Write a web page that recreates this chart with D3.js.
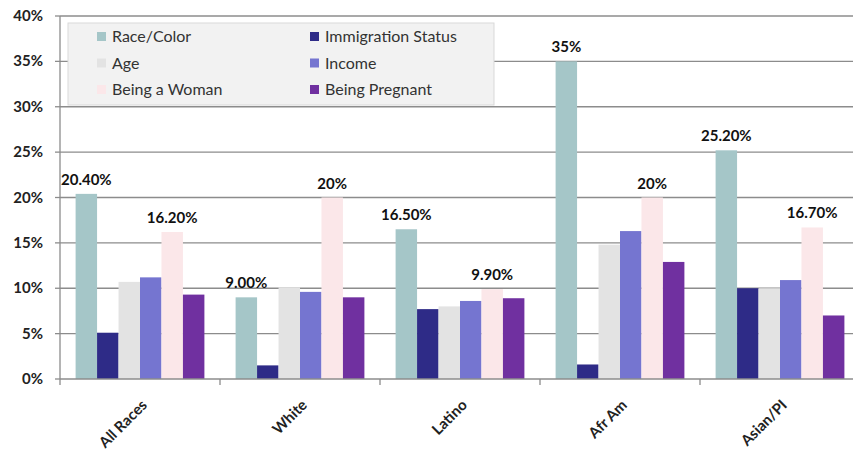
<!DOCTYPE html>
<html>
<head>
<meta charset="utf-8">
<script src="https://cdn.jsdelivr.net/npm/d3@7"></script>
<style>
  body { margin: 0; background: #fff; }
  svg { display: block; font-family: Lato, "Open Sans", sans-serif; }
</style>
</head>
<body>
<svg id="chart" width="853" height="457"></svg>
<script>
// データ
const categories = ["All Races", "White", "Latino", "Afr Am", "Asian/PI"];
const seriesNames = ["Race/Color", "Immigration Status", "Age", "Income", "Being a Woman", "Being Pregnant"];
const raceColor   = [20.4, 9.0, 16.5, 35, 25.2];
const immigration = [5.1, 1.5, 7.7, 1.6, 10.0];
const age         = [10.7, 10.1, 8.0, 14.8, 10.0];
const income      = [11.2, 9.6, 8.6, 16.3, 10.9];
const woman       = [16.2, 20, 9.9, 20, 16.7];
const pregnant    = [9.3, 9.0, 8.9, 12.9, 7.0];
const raceLabels  = ["20.40%", "9.00%", "16.50%", "35%", "25.20%"];
const womanLabels = ["16.20%", "20%", "9.90%", "20%", "16.70%"];
const yTicks = [0, 5, 10, 15, 20, 25, 30, 35, 40];

const series = [raceColor, immigration, age, income, woman, pregnant];
const colors = ["#a5c6c8", "#2e2b87", "#e3e3e3", "#7575d0", "#fbe7e9", "#7030a0"];

const svg = d3.select("#chart");
const margin = { left: 60, top: 16, right: -7, bottom: 78 };
const width = 853 - margin.left - margin.right;
const height = 457 - margin.top - margin.bottom;

const g = svg.append("g").attr("transform", `translate(${margin.left},${margin.top})`);

const x0 = d3.scaleBand().domain(categories).range([0, width]).paddingInner(0.195).paddingOuter(0.0975);
const x1 = d3.scaleBand().domain(d3.range(series.length)).range([0, x0.bandwidth()]);
const y = d3.scaleLinear().domain([0, 40]).range([height, 0]);

// 目盛線
g.selectAll(".grid")
  .data(yTicks.slice(1))
  .enter()
  .append("line")
  .attr("x1", 0).attr("x2", width)
  .attr("y1", d => y(d)).attr("y2", d => y(d))
  .attr("stroke", "#8c8c8c")
  .attr("stroke-width", 1.3);

// 棒
const grp = g.selectAll(".grp")
  .data(categories)
  .enter()
  .append("g")
  .attr("transform", d => `translate(${x0(d)},0)`);

grp.selectAll("rect")
  .data((c, i) => series.map((s, j) => ({ j, v: s[i] })))
  .enter()
  .append("rect")
  .attr("x", d => x1(d.j))
  .attr("width", x1.bandwidth())
  .attr("y", d => y(d.v))
  .attr("height", d => height - y(d.v))
  .attr("fill", d => colors[d.j]);

// ラベル
function addLabels(idx, labels) {
  grp.append("text")
    .attr("x", x1(idx) + x1.bandwidth() / 2)
    .attr("y", (c, i) => y(series[idx][i]) - 9)
    .attr("text-anchor", "middle")
    .attr("font-size", "15px")
    .attr("font-weight", "bold")
    .attr("fill", "#111")
    .text((c, i) => labels[i]);
}
addLabels(0, raceLabels);
addLabels(4, womanLabels);

// Y 軸
g.append("line")
  .attr("x1", 0).attr("x2", 0).attr("y1", 0).attr("y2", height)
  .attr("stroke", "#8c8c8c").attr("stroke-width", 1.3);
g.selectAll(".ytick")
  .data(yTicks)
  .enter()
  .append("line")
  .attr("x1", -5).attr("x2", 0)
  .attr("y1", d => y(d)).attr("y2", d => y(d))
  .attr("stroke", "#8c8c8c").attr("stroke-width", 1.3);
g.selectAll(".ylab")
  .data(yTicks)
  .enter()
  .append("text")
  .attr("x", -17)
  .attr("y", d => y(d) + 5)
  .attr("text-anchor", "end")
  .attr("font-size", "15px")
  .attr("font-weight", "bold")
  .attr("fill", "#222")
  .text(d => d + "%");

// X 軸
g.append("line")
  .attr("x1", 0).attr("x2", width).attr("y1", height).attr("y2", height)
  .attr("stroke", "#8c8c8c").attr("stroke-width", 1.3);
g.selectAll(".xtick")
  .data(d3.range(categories.length + 1))
  .enter()
  .append("line")
  .attr("x1", i => i * x0.step()).attr("x2", i => i * x0.step())
  .attr("y1", height).attr("y2", height + 6)
  .attr("stroke", "#8c8c8c").attr("stroke-width", 1.3);
g.selectAll(".xlab")
  .data(categories)
  .enter()
  .append("text")
  .attr("text-anchor", "end")
  .attr("font-size", "15px")
  .attr("font-weight", "bold")
  .attr("fill", "#222")
  .attr("transform", d => `translate(${x0(d) + x0.bandwidth() / 2 + 8},${height + 27}) rotate(-45)`)
  .text(d => d);

// 凡例
const legend = svg.append("g").attr("transform", "translate(68,23)");
legend.append("rect")
  .attr("width", 426).attr("height", 82)
  .attr("fill", "#f2f2f2")
  .attr("stroke", "#d9d9d9");
const item = legend.selectAll(".item")
  .data(seriesNames)
  .enter()
  .append("g")
  .attr("transform", (d, i) => `translate(${i % 2 ? 242 : 29},${9 + Math.floor(i / 2) * 26.5})`);
item.append("rect")
  .attr("width", 9).attr("height", 9)
  .attr("fill", (d, i) => colors[i]);
item.append("text")
  .attr("x", 15).attr("y", 10)
  .attr("font-size", "16px")
  .attr("fill", "#333")
  .text(d => d);
</script>
</body>
</html>
